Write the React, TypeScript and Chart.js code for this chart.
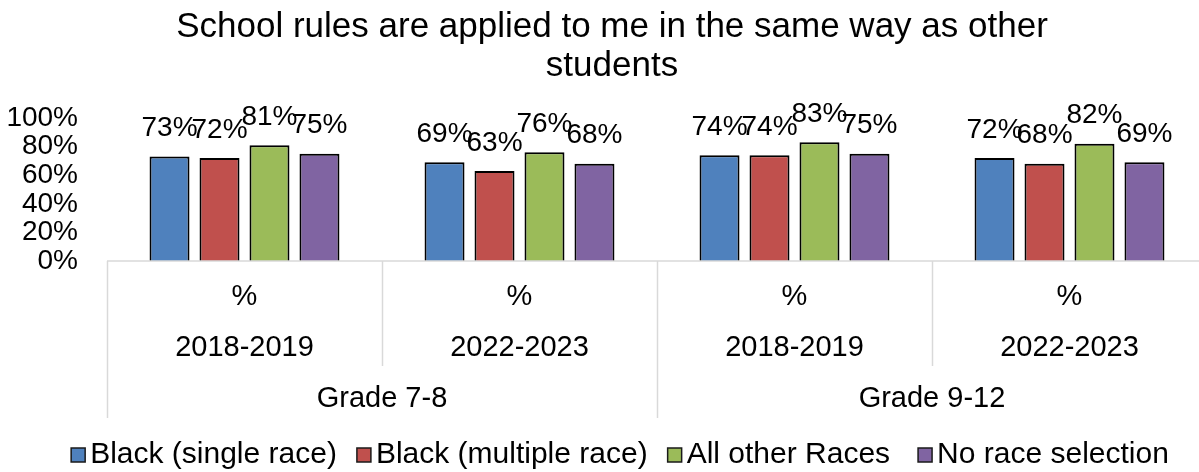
import React, { useEffect, useRef } from 'react';
import { Chart, registerables } from 'chart.js';

Chart.register(...registerables);

const titleLines = ['School rules are applied to me in the same way as other', 'students'];
const grades = ['Grade 7-8', 'Grade 9-12'];
const years = ['2018-2019', '2022-2023', '2018-2019', '2022-2023'];
const measureLabels = ['%', '%', '%', '%'];
const seriesNames = ['Black (single race)', 'Black (multiple race)', 'All other Races', 'No race selection'];
const blackSingle = [73, 69, 74, 72];
const blackMultiple = [72, 63, 74, 68];
const allOtherRaces = [81, 76, 83, 82];
const noRaceSelection = [75, 68, 75, 69];
const seriesColors = ['#4F81BD', '#C0504D', '#9BBB59', '#8064A2'];

const FONT = '"Liberation Sans", Arial, Helvetica, sans-serif';

const customDraw = {
  id: 'customDraw',
  afterDraw(chart: any) {
    const ctx = chart.ctx as CanvasRenderingContext2D;
    const area = chart.chartArea;
    const xs = chart.scales.x;
    const n = years.length;
    const catW = (xs.getPixelForValue(1) - xs.getPixelForValue(0));
    const bound = (i: number) => xs.getPixelForValue(0) - catW / 2 + i * catW;
    const row1 = area.bottom + 36;
    const row2 = area.bottom + 87;
    const row3 = area.bottom + 138;
    const yearBottom = area.bottom + 105;
    const gradeBottom = area.bottom + 157;

    ctx.save();
    // axis lines
    ctx.strokeStyle = '#D9D9D9';
    ctx.lineWidth = 1.5;
    ctx.beginPath();
    ctx.moveTo(bound(0), area.bottom);
    ctx.lineTo(bound(n), area.bottom);
    for (let i = 0; i <= n; i++) {
      const x = Math.round(bound(i)) + 0.5;
      const isGradeEdge = i % 2 === 0;
      ctx.moveTo(x, area.bottom);
      ctx.lineTo(x, isGradeEdge ? gradeBottom : yearBottom);
    }
    ctx.stroke();

    // category labels
    ctx.fillStyle = '#000';
    ctx.textAlign = 'center';
    ctx.textBaseline = 'middle';
    ctx.font = `29px ${FONT}`;
    for (let i = 0; i < n; i++) {
      const cx = xs.getPixelForValue(i);
      ctx.fillText(measureLabels[i], cx, row1);
      ctx.fillText(years[i], cx, row2);
    }
    grades.forEach((g, gi) => {
      const cx = (bound(gi * 2) + bound(gi * 2 + 2)) / 2;
      ctx.fillText(g, cx, row3);
    });

    // data labels
    ctx.font = `28px ${FONT}`;
    chart.data.datasets.forEach((ds: any, di: number) => {
      const meta = chart.getDatasetMeta(di);
      meta.data.forEach((bar: any, i: number) => {
        ctx.fillText(ds.data[i] + '%', bar.x, bar.y - 28);
      });
    });

    // title
    ctx.font = `35px ${FONT}`;
    ctx.fillText(titleLines[0], 612, 27);
    ctx.fillText(titleLines[1], 612, 66);

    // legend
    ctx.font = `30px ${FONT}`;
    const box = 14;
    const gapText = 5;
    const gaps = [20, 20, 28];
    const widths = seriesNames.map((s) => box + gapText + ctx.measureText(s).width);
    const total = widths.reduce((a, b) => a + b, 0) + gaps.reduce((a, b) => a + b, 0);
    let lx = 620 - total / 2;
    const ly = 455;
    ctx.textAlign = 'left';
    seriesNames.forEach((s, i) => {
      ctx.fillStyle = seriesColors[i];
      ctx.fillRect(lx, ly - box / 2, box, box);
      ctx.strokeStyle = '#1a1a1a';
      ctx.lineWidth = 1.5;
      ctx.strokeRect(lx, ly - box / 2, box, box);
      ctx.fillStyle = '#000';
      ctx.fillText(s, lx + box + gapText, ly);
      lx += widths[i] + (gaps[i] || 0);
    });
    ctx.restore();
  },
};

export default function App() {
  const ref = useRef<HTMLCanvasElement>(null);
  useEffect(() => {
    document.body.style.margin = '0';
    const seriesData = [blackSingle, blackMultiple, allOtherRaces, noRaceSelection];
    const chart = new Chart(ref.current as HTMLCanvasElement, {
      type: 'bar',
      data: {
        labels: years,
        datasets: seriesNames.map((name, i) => ({
          label: name,
          data: seriesData[i],
          backgroundColor: seriesColors[i],
          borderColor: '#000',
          borderWidth: 2,
          categoryPercentage: 0.727,
          barPercentage: 0.8,
        })),
      },
      options: {
        responsive: false,
        animation: false,
        layout: { padding: { top: 118, bottom: 211, left: 0, right: 0 } },
        plugins: {
          legend: { display: false },
          title: { display: false },
          tooltip: { enabled: false },
        },
        scales: {
          x: {
            display: false,
            grid: { display: false },
          },
          y: {
            min: 0,
            max: 100,
            ticks: {
              stepSize: 20,
              autoSkip: false,
              callback: (v: any) => v + '%',
              color: '#000',
              font: { size: 28, family: FONT },
              padding: 29,
            },
            grid: { display: false, drawTicks: false },
            border: { display: false },
            afterFit: (s: any) => {
              s.width = 107;
            },
          },
        },
      },
      plugins: [customDraw],
    });
    return () => chart.destroy();
  }, []);
  return (
    <div style={{ width: 1199, height: 472, overflow: 'hidden', background: '#fff' }}>
      <canvas ref={ref} width={1207} height={472} style={{ display: 'block' }} />
    </div>
  );
}
